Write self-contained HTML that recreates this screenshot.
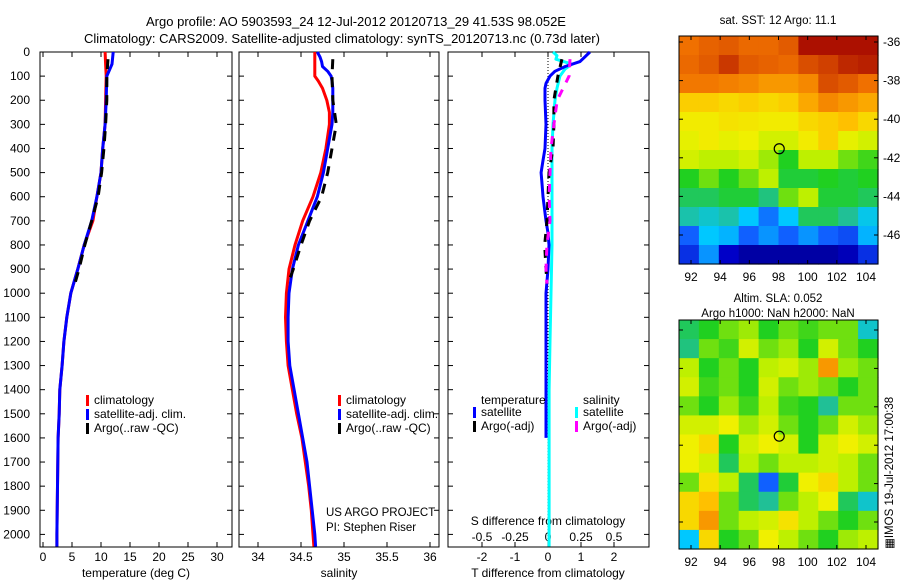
<!DOCTYPE html>
<html><head><meta charset="utf-8">
<style>
html,body{margin:0;padding:0;background:#fff;}
svg{display:block;font-family:"Liberation Sans",sans-serif;}
</style></head>
<body>
<svg id="fig" width="900" height="580" viewBox="0 0 900 580" xmlns="http://www.w3.org/2000/svg">
<text x="356" y="26" font-size="13" text-anchor="middle">Argo profile: AO 5903593_24 12-Jul-2012 20120713_29 41.53S 98.052E</text>
<text x="342" y="43" font-size="13" text-anchor="middle">Climatology: CARS2009. Satellite-adjusted climatology: synTS_20120713.nc (0.73d later)</text>
<text x="778" y="24" font-size="11.5" text-anchor="middle">sat. SST: 12 Argo: 11.1</text>
<text x="778" y="302" font-size="11.5" text-anchor="middle">Altim. SLA: 0.052</text>
<text x="778" y="317" font-size="11.5" text-anchor="middle">Argo h1000: NaN h2000: NaN</text>
<g id="layer"></g>
<text x="0" y="0" font-size="11.5" transform="translate(893,549) rotate(-90)">&#9638;IMOS 19-Jul-2012 17:00:38</text>
<text x="326" y="516" font-size="11.5">US ARGO PROJECT</text>
<text x="326" y="531" font-size="11.5">PI: Stephen Riser</text>
</svg>
<script>
// ---- data ----
const depthT = [0,50,100,200,300,400,500,600,700,800,900,1000,1100,1200,1300,1400,1500,1600,1800,2000,2050];
const tempClim = [10.7,10.8,10.9,10.8,10.7,10.3,10.0,9.3,8.6,7.1,6.0,4.8,4.1,3.6,3.3,2.9,2.8,2.6,2.5,2.4,2.4];
const tempSat  = [12.1,11.9,11.0,10.9,10.7,10.3,10.0,9.3,8.4,7.1,6.0,4.8,4.1,3.6,3.3,2.9,2.8,2.6,2.5,2.4,2.4];
const depthArgo = [30,100,200,300,400,500,600,700,800,900,960];
const tempArgo = [11.2,11.0,11.0,10.8,10.5,10.1,9.5,8.4,7.2,6.2,5.5];
const depthS = [0,20,40,60,80,100,120,150,200,250,300,400,500,600,700,800,900,1000,1100,1200,1300,1400,1500,1600,1700,1800,1900,2000,2050];
const salClim = [34.66,34.66,34.66,34.66,34.66,34.66,34.70,34.75,34.80,34.83,34.83,34.79,34.73,34.64,34.52,34.43,34.36,34.33,34.32,34.33,34.35,34.40,34.45,34.51,34.55,34.59,34.62,34.64,34.65];
const salSat  = [34.69,34.72,34.74,34.75,34.81,34.85,34.86,34.87,34.87,34.87,34.86,34.81,34.76,34.69,34.58,34.47,34.40,34.36,34.35,34.35,34.37,34.42,34.47,34.52,34.57,34.60,34.63,34.66,34.67];
const salArgo = [34.87,34.86,34.87,34.91,34.86,34.81,34.74,34.60,34.50,34.41,34.35];
const depthSatT = [0,20,40,60,80,100,130,150,200,300,400,450,500,550,600,700,750,800,900,1000,1200,1400,1600];
const dTsat = [1.27,1.12,0.97,0.52,0.21,0.06,-0.06,-0.09,-0.09,-0.06,-0.09,-0.15,-0.21,-0.18,-0.15,-0.06,0.0,0.03,0.0,-0.06,-0.06,-0.06,-0.06];
const depthSatS = [0,15,30,50,70,100,150,200,300,400,600,800,1000,1200,1400,1600,2050];
const dSsat = [0.038,0.068,0.06,0.18,0.13,0.09,0.068,0.053,0.038,0.03,0.03,0.03,0.023,0.015,0.008,0.008,0.008];
const dTargo = [0.42,0.30,0.18,0.18,0.15,0.03,0.0,-0.03,-0.10,-0.06,-0.03];
const dSargo = [0.167,0.16,0.07,0.045,0.023,0.015,0.008,0.015,-0.008,-0.015,-0.008];
const depthTicks = [0,100,200,300,400,500,600,700,800,900,1000,1100,1200,1300,1400,1500,1600,1700,1800,1900,2000];
const tempTicks = [0,5,10,15,20,25,30];
const salTicks = [34,34.5,35,35.5,36];
const salTickLabels = ["34","34.5","35","35.5","36"];
const dTTicks = [-2,-1,0,1,2];
const dSTicks = [-0.5,-0.25,0,0.25,0.5];
const lonTicks = [92,94,96,98,100,102,104];
const latTicks = [-36,-38,-40,-42,-44,-46];
const sstGrid = [
[.85,.87,.88,.86,.86,.88,.98,.98,.98,.98],
[.86,.88,.93,.88,.87,.86,.90,.92,.95,.96],
[.84,.84,.83,.82,.80,.80,.82,.90,.88,.85],
[.72,.72,.70,.72,.70,.72,.78,.82,.80,.78],
[.66,.66,.68,.67,.66,.66,.70,.72,.75,.70],
[.64,.66,.64,.65,.62,.62,.66,.72,.64,.62],
[.62,.60,.60,.62,.58,.50,.60,.60,.55,.52],
[.50,.55,.50,.55,.60,.48,.48,.50,.48,.50],
[.45,.45,.48,.48,.42,.55,.60,.48,.48,.45],
[.38,.35,.38,.30,.22,.30,.45,.45,.40,.32],
[.20,.30,.28,.20,.25,.20,.25,.20,.18,.28],
[.15,.25,.10,.05,.05,.05,.05,.05,.08,.15]];
const slaGrid = [
[.45,.50,.55,.58,.50,.55,.52,.55,.55,.35],
[.42,.55,.52,.62,.55,.58,.50,.62,.55,.50],
[.60,.50,.55,.50,.60,.62,.58,.80,.58,.55],
[.62,.52,.55,.50,.62,.55,.58,.55,.50,.55],
[.55,.50,.58,.52,.60,.52,.50,.40,.55,.55],
[.62,.62,.65,.58,.62,.55,.50,.55,.62,.58],
[.65,.70,.50,.62,.65,.62,.50,.62,.65,.62],
[.65,.62,.45,.60,.55,.60,.60,.62,.60,.55],
[.55,.68,.60,.45,.20,.48,.65,.70,.60,.55],
[.70,.75,.55,.45,.40,.55,.60,.65,.45,.35],
[.70,.80,.55,.60,.62,.68,.60,.55,.50,.55],
[.30,.70,.50,.55,.65,.60,.55,.50,.58,.60]];
const argoLon = 98.05, argoLat = -41.53;

// ---- drawing ----
const NS="http://www.w3.org/2000/svg";
const layer=document.getElementById('layer');
function mk(tag,attrs,parent){const e=document.createElementNS(NS,tag);for(const k in attrs)e.setAttribute(k,attrs[k]);(parent||layer).appendChild(e);return e;}
const top0=52, dScale=0.2412, bot=547;
const yD=d=>top0+d*dScale;
function lin(d0,d1,p0,p1){return v=>p0+(v-d0)*(p1-p0)/(d1-d0);}
const xT=lin(0,30,43,217), xS=lin(34,36,258,430), xdT=lin(0,2,548,614), xdS=lin(0,0.5,548,614);

function panel(name,x0,x1){
  const g=mk('g',{});
  
  
  mk('rect',{x:x0,y:top0,width:x1-x0,height:bot-top0,fill:'none',stroke:'#000','stroke-width':1},g);
  depthTicks.forEach(d=>{const y=yD(d);
    mk('line',{x1:x0,x2:x0+5,y1:y,y2:y,stroke:'#000'},g);
    mk('line',{x1:x1-5,x2:x1,y1:y,y2:y,stroke:'#000'},g);});
  return g;
}
function xticks(g,ticks,fx,labels,ly){
  ticks.forEach((t,i)=>{const x=fx(t);
    mk('line',{x1:x,x2:x,y1:bot,y2:bot-5,stroke:'#000'},g);
    mk('line',{x1:x,x2:x,y1:top0,y2:top0+5,stroke:'#000'},g);
    if(labels){const tx=mk('text',{x:x,y:ly,'font-size':12,'text-anchor':'middle'},g);tx.textContent=labels[i];}});
}
function line(g,name,xs,ds,fx,color,dash){
  const p=mk('polyline',{points:xs.map((v,i)=>fx(v).toFixed(1)+','+yD(ds[i]).toFixed(1)).join(' '),fill:'none',stroke:color,'stroke-width':3,'stroke-linejoin':'round'},g);
  if(dash)p.setAttribute('stroke-dasharray',dash);
  
  
}
function legend(g,x,y,items){
  items.forEach((it,i)=>{const yy=y+i*14;
    mk('rect',{x:x,y:yy-9,width:3,height:11,fill:it[1]},g);
    const t=mk('text',{x:x+8,y:yy,'font-size':12},g);t.textContent=it[0];
    
    });
}

// panel 1
const p1=panel('temperature-panel',40,232);
depthTicks.forEach(d=>{const t=mk('text',{x:30,y:yD(d)+4,'font-size':12,'text-anchor':'end'},p1);t.textContent=d;});
xticks(p1,tempTicks,xT,tempTicks.map(String),561);
mk('text',{x:136,y:577,'font-size':12,'text-anchor':'middle'},p1).textContent='temperature (deg C)';
line(p1,'temp-climatology-line',tempClim,depthT,xT,'#f00');
line(p1,'temp-satellite-line',tempSat,depthT,xT,'#00f');
line(p1,'temp-argo-line',tempArgo,depthArgo,xT,'#000','10,8');
legend(p1,86,404,[['climatology','#f00'],['satellite-adj. clim.','#00f'],['Argo(..raw -QC)','#000']]);

// panel 2
const p2=panel('salinity-panel',239,439);
xticks(p2,salTicks,xS,salTickLabels,561);
mk('text',{x:339,y:577,'font-size':12,'text-anchor':'middle'},p2).textContent='salinity';
line(p2,'sal-climatology-line',salClim,depthS,xS,'#f00');
line(p2,'sal-satellite-line',salSat,depthS,xS,'#00f');
line(p2,'sal-argo-line',salArgo,depthArgo,xS,'#000','10,8');
legend(p2,338,404,[['climatology','#f00'],['satellite-adj. clim.','#00f'],['Argo(..raw -QC)','#000']]);

// panel 3
const p3=panel('difference-panel',448,649);
mk('line',{x1:xdT(0),x2:xdT(0),y1:top0,y2:bot,stroke:'#000','stroke-dasharray':'1,2'},p3);
xticks(p3,dTTicks,xdT,dTTicks.map(String),561);
dSTicks.forEach(t=>{const tx=mk('text',{x:xdS(t),y:541,'font-size':12,'text-anchor':'middle'},p3);tx.textContent=String(t);});
mk('text',{x:548,y:525,'font-size':12,'text-anchor':'middle'},p3).textContent='S difference from climatology';
mk('text',{x:548,y:577,'font-size':12,'text-anchor':'middle'},p3).textContent='T difference from climatology';
line(p3,'dS-satellite-line',dSsat,depthSatS,xdS,'#0ff');
line(p3,'dT-satellite-line',dTsat,depthSatT,xdT,'#00f');
line(p3,'dT-argo-line',dTargo,depthArgo,xdT,'#000','8,8');
line(p3,'dS-argo-line',dSargo,depthArgo,xdS,'#f0f','8,8');
mk('text',{x:481,y:404,'font-size':12},p3).textContent='temperature';
mk('text',{x:583,y:404,'font-size':12},p3).textContent='salinity';
legend(p3,473,416,[['satellite','#00f'],['Argo(-adj)','#000']]);
legend(p3,575,416,[['satellite','#0ff'],['Argo(-adj)','#f0f']]);

// maps
const cmapStops=[[0,[0,0,127]],[0.1,[0,0,200]],[0.2,[16,96,255]],[0.3,[0,200,255]],[0.4,[32,192,150]],[0.5,[32,208,32]],[0.6,[190,240,0]],[0.65,[240,240,0]],[0.75,[255,192,0]],[0.85,[240,112,0]],[0.92,[208,64,0]],[1,[160,0,0]]];
function cmap(v){
  for(let i=1;i<cmapStops.length;i++){const a=cmapStops[i-1],b=cmapStops[i];
    if(v<=b[0]){const f=(v-a[0])/(b[0]-a[0]);return 'rgb('+a[1].map((c,k)=>Math.round(c+(b[1][k]-c)*f)).join(',')+')';}}
  return 'rgb(160,0,0)';
}
function map(name,grid,x0,x1,y0,y1,lat0px,lat46px,latLabels){
  const g=mk('g',{});
  
  
  const rows=grid.length, cols=grid[0].length, cw=(x1-x0)/cols, ch=(y1-y0)/rows;
  grid.forEach((r,i)=>r.forEach((v,j)=>{
    const c=mk('rect',{x:x0+j*cw,y:y0+i*ch,width:cw+0.6,height:ch+0.6,fill:cmap(v)},g);
    
    }));
  mk('rect',{x:x0,y:y0,width:x1-x0,height:y1-y0,fill:'none',stroke:'#000'},g);
  const fx=lin(92,104,691,866), fy=lin(-36,-46,lat0px,lat46px);
  lonTicks.forEach(t=>{const x=fx(t);mk('line',{x1:x,x2:x,y1:y1,y2:y1-4,stroke:'#000'},g);mk('line',{x1:x,x2:x,y1:y0,y2:y0+4,stroke:'#000'},g);
    const tx=mk('text',{x:x,y:y1+17,'font-size':12,'text-anchor':'middle'},g);tx.textContent=t;});
  latTicks.forEach(t=>{const y=fy(t);mk('line',{x1:x1-4,x2:x1,y1:y,y2:y,stroke:'#000'},g);mk('line',{x1:x0,x2:x0+4,y1:y,y2:y,stroke:'#000'},g);
    if(latLabels){const tx=mk('text',{x:x1+5,y:y+4,'font-size':12},g);tx.textContent=t;}});
  const m=mk('circle',{cx:fx(argoLon),cy:fy(argoLat),r:5,fill:'none',stroke:'#000','stroke-width':1.2},g);
  
  
}
map('sst-map',sstGrid,679,878,36,264,42,235,true);
map('sla-map',slaGrid,679,878,320,549,330,522,false);
</script>
</body></html>
